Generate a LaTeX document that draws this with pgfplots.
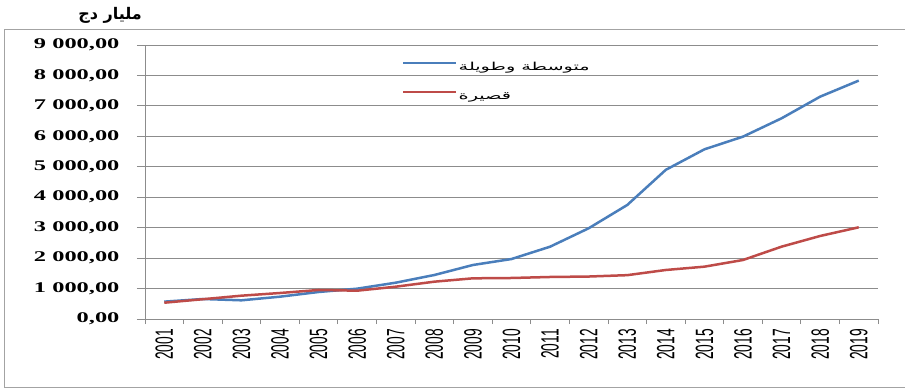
\documentclass[border=0pt]{standalone}
\usepackage{fontspec}
\usepackage{pgfplots}
\pgfplotsset{compat=1.18}
\TeXXeTstate=1
\newfontfamily\arabicfont[Script=Arabic]{DejaVu Sans}
\newfontfamily\arabicwide[Script=Arabic,FakeStretch=1.75]{DejaVu Sans}
\newfontfamily\ylabfont[FakeStretch=1.65]{Liberation Serif}
\newfontfamily\xlabfont[FakeStretch=0.55]{Liberation Sans}
\definecolor{cblue}{HTML}{4A7EBB}
\definecolor{cred}{HTML}{BE4B48}
\definecolor{cgrid}{HTML}{8C8C8C}
\begin{document}
\begin{tikzpicture}
\begin{axis}[
  width=733pt, height=274pt, scale only axis,
  xmin=0.5, xmax=19.5, ymin=0, ymax=9000,
  axis x line*=bottom, axis y line*=left,
  axis line style={draw=cgrid, line width=0.9pt},
  clip=false,
  ytick={0,1000,...,9000},
  yticklabels={{0,00},{1 000,00},{2 000,00},{3 000,00},{4 000,00},{5 000,00},{6 000,00},{7 000,00},{8 000,00},{9 000,00}},
  ymajorgrids,
  grid style={draw=cgrid, line width=0.9pt},
  xtick={1,...,19},
  xticklabels={2001,2002,2003,2004,2005,2006,2007,2008,2009,2010,2011,2012,2013,2014,2015,2016,2017,2018,2019},
  minor xtick={0.5,1.5,...,19.5},
  tick align=outside,
  major tick length=8pt,
  minor tick length=5pt,
  major x tick style={draw=none},
  minor x tick style={draw=cgrid, line width=0.9pt},
  major y tick style={draw=cgrid, line width=0.9pt},
  xticklabel style={rotate=90, anchor=east, inner sep=2pt, font=\xlabfont\fontsize{25}{26}\selectfont},
  yticklabel style={xshift=-14pt, font=\ylabfont\bfseries\fontsize{14.8}{15}\selectfont},
  legend cell align=left,
  legend image code/.code={\draw[#1] (0pt,4pt) -- (53pt,4pt);},
  legend style={at={(rel axis cs:0.3506,0.9489)}, anchor=north west, draw=none, fill=none,
    inner sep=0pt, row sep=13pt,
    nodes={inner sep=1pt, text height=10pt, text depth=4pt, font=\arabicwide\fontsize{11}{12}\selectfont}},
]
\addplot[cblue, line width=2.5pt] coordinates {
 (1,570) (2,657) (3,614) (4,733) (5,887) (6,996) (7,1193) (8,1445) (9,1774) (10,1970)
 (11,2375) (12,2980) (13,3745) (14,4900) (15,5573) (16,5990) (17,6592) (18,7303) (19,7830)};
\addlegendentry{\beginR متوسطة وطويلة\endR}
\addplot[cred, line width=2.5pt] coordinates {
 (1,535) (2,650) (3,766) (4,854) (5,953) (6,930) (7,1061) (8,1226) (9,1336) (10,1347)
 (11,1380) (12,1395) (13,1440) (14,1610) (15,1719) (16,1938) (17,2376) (18,2727) (19,3012)};
\addlegendentry{\beginR قصيرة\endR}
\node[font=\arabicfont\bfseries\fontsize{16}{18}\selectfont] at (rel axis cs:-0.0477,1.1095) {\beginR مليار دج\endR};
\draw[cgrid!80, line width=1pt] (rel axis cs:-0.191,-0.2482) rectangle (rel axis cs:1.045,1.0547);
\coordinate (bbA) at (rel axis cs:-0.1978,-0.2555);
\coordinate (bbB) at (rel axis cs:1.0368,1.1642);
\end{axis}
\pgfresetboundingbox
\path (bbA) rectangle (bbB);
\end{tikzpicture}
\end{document}
